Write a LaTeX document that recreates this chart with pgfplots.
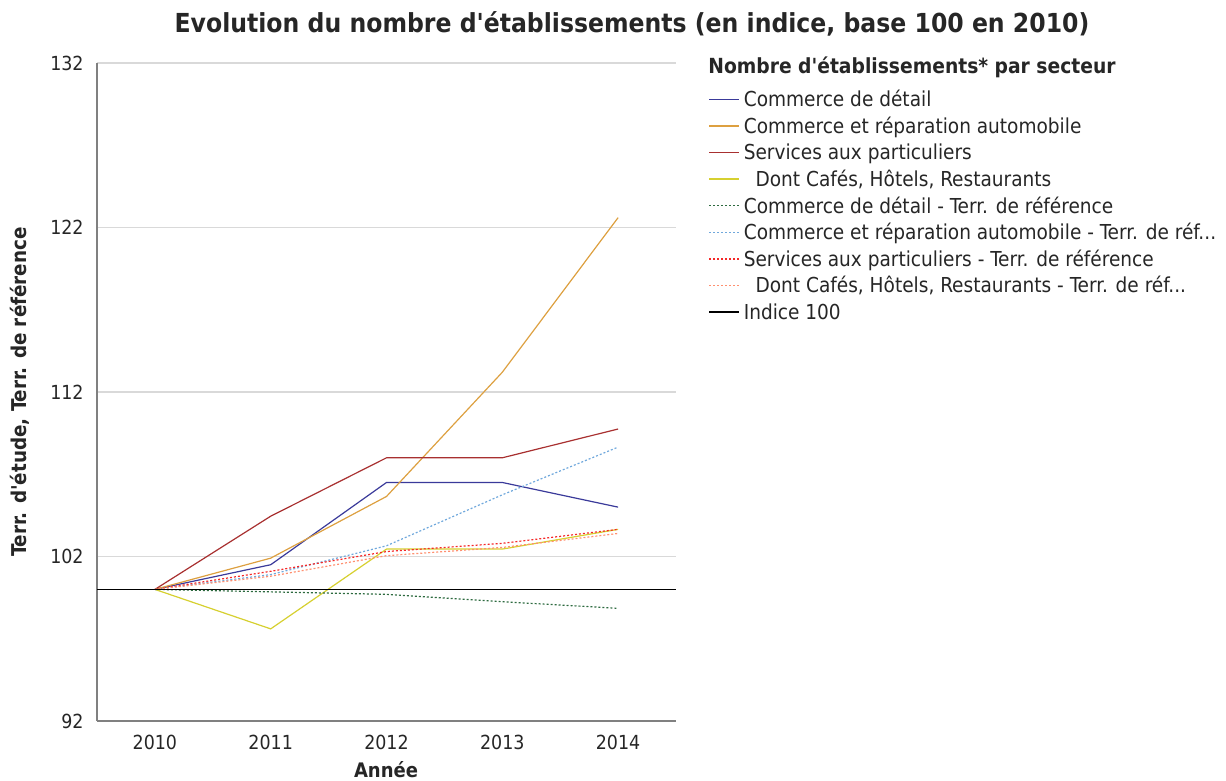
\documentclass[border=0pt]{standalone}
\usepackage{fontspec}
\setmainfont{DejaVu Sans Condensed}[Ligatures=TeXOff]
\usepackage{pgfplots}
\pgfplotsset{compat=1.18}
\definecolor{cdet}{HTML}{3A3A9A}
\definecolor{cauto}{HTML}{DDA040}
\definecolor{cserv}{HTML}{A83030}
\definecolor{ccafe}{HTML}{D6D030}
\definecolor{rdet}{HTML}{2E6B40}
\definecolor{rauto}{HTML}{70A8DC}
\definecolor{rserv}{HTML}{F52828}
\definecolor{rcafe}{HTML}{FF9070}
\definecolor{gridc}{HTML}{D9D9D9}
\definecolor{axc}{HTML}{808080}
\definecolor{txt}{HTML}{262626}
\begin{document}
\begin{tikzpicture}
\path[use as bounding box] (0,0) rectangle (613pt,390.5pt);
\begin{axis}[
  scale only axis,
  width=289.5pt, height=329pt,
  at={(48.5pt,30pt)}, anchor=south west,
  xmin=2009.5, xmax=2014.5, ymin=92, ymax=132,
  xtick={2010,2011,2012,2013,2014},
  ytick={92,102,112,122,132},
  axis x line*=bottom, axis y line*=left,
  axis line style={color=axc, line width=0.6pt, -},
  major tick length=0pt,
  ymajorgrids, grid style={color=gridc, line width=0.6pt},
  /pgf/number format/assume math mode=true,
  /pgf/number format/1000 sep={},
  tick label style={font=\fontsize{9.7pt}{11pt}\selectfont, text=txt},
  yticklabel style={inner sep=0pt, xshift=-6.5pt},
  xticklabel style={inner sep=0pt, yshift=-7pt},
  clip=false,
  legend cell align=left,
  legend style={at={(rel axis cs:1.0553,0.9625)}, anchor=north west, draw=none, fill=none,
    inner sep=0pt, row sep=0pt, font=\fontsize{10.3pt}{12pt}\selectfont, text=txt,
    nodes={inner sep=0pt, text height=9.3pt, text depth=4.0pt},
    /tikz/every odd column/.style={column sep=2pt}},
  legend image code/.code={\draw[#1, line width=0.7pt] (0pt,1pt) -- (15pt,1pt);},
]
\addplot[cdet, line width=0.6pt] coordinates {(2010,100) (2011,101.5) (2012,106.5) (2013,106.5) (2014,105)};
\addlegendentry{Commerce de détail}
\addplot[cauto, line width=0.6pt] coordinates {(2010,100) (2011,101.9) (2012,105.65) (2013,113.2) (2014,122.6)};
\addlegendentry{Commerce et réparation automobile}
\addplot[cserv, line width=0.6pt] coordinates {(2010,100) (2011,104.45) (2012,108) (2013,108) (2014,109.75)};
\addlegendentry{Services aux particuliers}
\addplot[ccafe, line width=0.6pt] coordinates {(2010,100) (2011,97.6) (2012,102.45) (2013,102.45) (2014,103.65)};
\addlegendentry{\ \ Dont Cafés, Hôtels, Restaurants}
\addplot[rdet, line width=0.6pt, dash pattern=on 1pt off 1pt] coordinates {(2010,100) (2011,99.85) (2012,99.7) (2013,99.25) (2014,98.85)};
\addlegendentry{Commerce de détail - Terr. de référence}
\addplot[rauto, line width=0.6pt, dash pattern=on 1pt off 1pt] coordinates {(2010,100) (2011,100.9) (2012,102.65) (2013,105.75) (2014,108.65)};
\addlegendentry{Commerce et réparation automobile - Terr. de réf...}
\addplot[rserv, line width=0.6pt, dash pattern=on 1pt off 1pt] coordinates {(2010,100) (2011,101.1) (2012,102.3) (2013,102.8) (2014,103.65)};
\addlegendentry{Services aux particuliers - Terr. de référence}
\addplot[rcafe, line width=0.6pt, dash pattern=on 1pt off 1pt] coordinates {(2010,100) (2011,100.8) (2012,102.05) (2013,102.55) (2014,103.4)};
\addlegendentry{\ \ Dont Cafés, Hôtels, Restaurants - Terr. de réf...}
\addplot[black, line width=0.6pt] coordinates {(2009.5,100) (2014.5,100)};
\addlegendentry{Indice 100}
\end{axis}
\node[font=\bfseries\fontsize{13.1pt}{15pt}\selectfont, text=txt] at (316pt,378.5pt) {Evolution du nombre d'établissements (en indice, base 100 en 2010)};
\node[font=\bfseries\fontsize{10.4pt}{12pt}\selectfont, text=txt, anchor=west, inner sep=0pt] at (354pt,357pt) {Nombre d'établissements* par secteur};
\node[font=\bfseries\fontsize{10.2pt}{12pt}\selectfont, text=txt, rotate=90] at (10pt,194.5pt) {Terr. d'étude, Terr. de référence};
\node[font=\bfseries\fontsize{10pt}{12pt}\selectfont, text=txt, anchor=base] at (193pt,1.8pt) {Année};
\end{tikzpicture}
\end{document}
